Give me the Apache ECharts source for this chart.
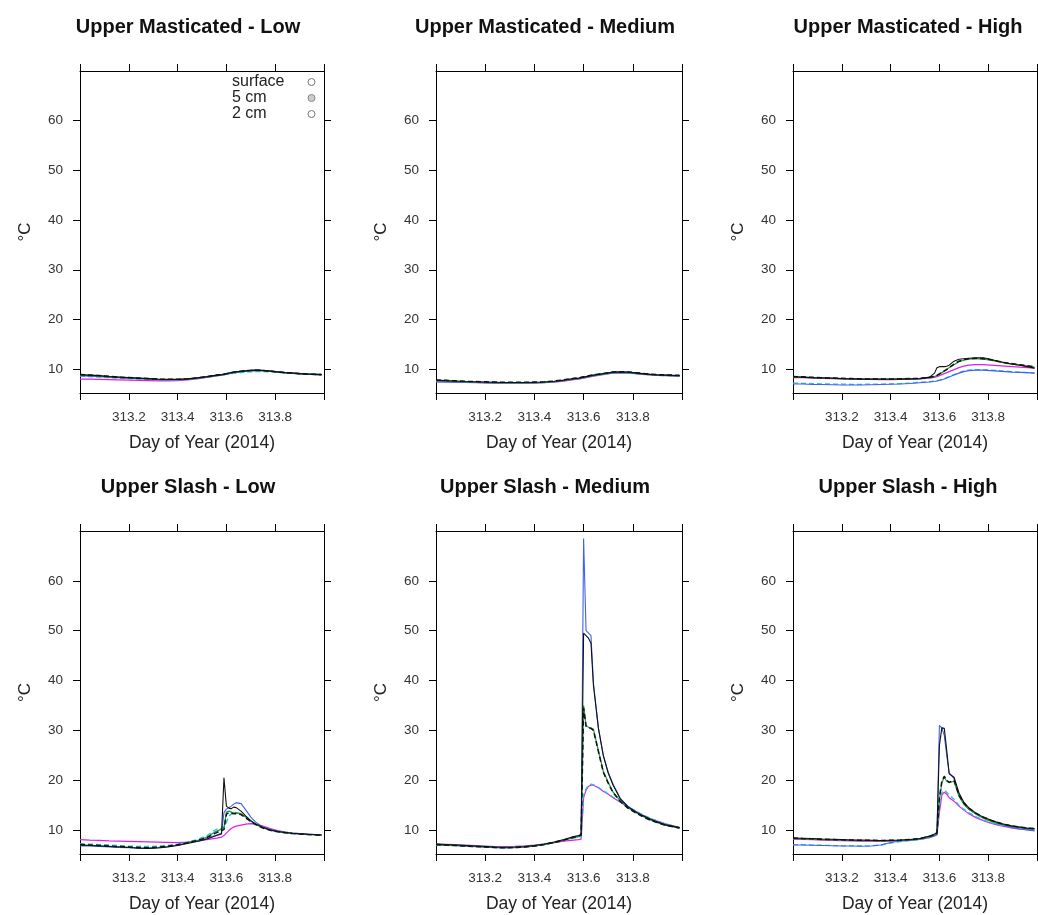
<!DOCTYPE html>
<html>
<head>
<meta charset="utf-8">
<script src="https://cdn.jsdelivr.net/npm/echarts@6/dist/echarts.min.js"></script>
<style>
  html, body { margin: 0; padding: 0; background: #fff; }
  #chart { width: 1038px; height: 915px; }
</style>
</head>
<body>
<div id="chart"></div>
<script>
// day of year, 2014 (denser round the afternoon jump)
const days = [313.00, 313.04, 313.08, 313.12, 313.16, 313.20, 313.24, 313.28, 313.32, 313.36,
  313.40, 313.44, 313.48, 313.52, 313.56, 313.58, 313.59, 313.60, 313.61, 313.62,
  313.63, 313.64, 313.66, 313.68, 313.70, 313.72, 313.75, 313.78, 313.81, 313.84,
  313.87, 313.90, 313.93, 313.96, 313.99];

const xTicks = [313, 313.2, 313.4, 313.6, 313.8, 314];
const xLabels = [313.2, 313.4, 313.6, 313.8];
const yTicks = [10, 20, 30, 40, 50, 60];
const titles = ['Upper Masticated - Low', 'Upper Masticated - Medium', 'Upper Masticated - High',
  'Upper Slash - Low', 'Upper Slash - Medium', 'Upper Slash - High'];

// Upper Masticated - Low
const mastLowSurfA = [8.7, 8.6, 8.5, 8.4, 8.3, 8.2, 8.1, 8.0, 7.9, 7.9, 7.9, 8.0, 8.2, 8.4, 8.7, 8.8, 8.9, 9.0, 9.1, 9.2, 9.3, 9.4, 9.5, 9.6, 9.7, 9.75, 9.7, 9.6, 9.45, 9.3, 9.2, 9.1, 9.05, 9.0, 8.95];
const mastLowSurfB = [8.9, 8.8, 8.7, 8.5, 8.4, 8.3, 8.2, 8.1, 8.0, 7.95, 7.95, 8.05, 8.25, 8.5, 8.8, 8.9, 9.0, 9.1, 9.2, 9.3, 9.4, 9.45, 9.55, 9.65, 9.75, 9.8, 9.75, 9.6, 9.45, 9.3, 9.2, 9.1, 9.0, 8.95, 8.9];
const mastLow2cmA = [8.8, 8.7, 8.6, 8.5, 8.35, 8.25, 8.15, 8.05, 7.95, 7.9, 7.9, 8.0, 8.2, 8.45, 8.75, 8.85, 8.95, 9.05, 9.15, 9.25, 9.35, 9.45, 9.55, 9.65, 9.7, 9.75, 9.7, 9.55, 9.4, 9.25, 9.15, 9.05, 9.0, 8.9, 8.85];
const mastLow2cmB = [8.9, 8.8, 8.7, 8.55, 8.4, 8.3, 8.2, 8.1, 8.0, 7.95, 7.95, 8.05, 8.25, 8.5, 8.8, 8.9, 9.0, 9.1, 9.2, 9.3, 9.4, 9.5, 9.6, 9.7, 9.75, 9.8, 9.75, 9.6, 9.45, 9.3, 9.2, 9.1, 9.0, 8.95, 8.9];
const mastLow5cmA = [8.0, 8.0, 7.95, 7.9, 7.85, 7.8, 7.75, 7.7, 7.65, 7.65, 7.7, 7.85, 8.05, 8.35, 8.65, 8.8, 8.9, 9.0, 9.1, 9.2, 9.3, 9.4, 9.5, 9.6, 9.7, 9.75, 9.7, 9.6, 9.45, 9.3, 9.2, 9.1, 9.0, 8.95, 8.9];
const mastLow5cmB = [8.6, 8.5, 8.4, 8.3, 8.2, 8.1, 8.0, 7.95, 7.9, 7.85, 7.85, 7.95, 8.15, 8.4, 8.7, 8.8, 8.85, 8.95, 9.0, 9.1, 9.15, 9.2, 9.3, 9.4, 9.45, 9.5, 9.5, 9.45, 9.35, 9.25, 9.15, 9.05, 9.0, 8.9, 8.85];

// Upper Masticated - Medium
const mastMedSurfA = [7.4, 7.4, 7.35, 7.3, 7.3, 7.25, 7.2, 7.2, 7.2, 7.2, 7.25, 7.3, 7.45, 7.7, 8.0, 8.1, 8.2, 8.3, 8.4, 8.5, 8.6, 8.7, 8.85, 9.0, 9.15, 9.3, 9.35, 9.3, 9.15, 9.0, 8.9, 8.8, 8.75, 8.7, 8.65];
const mastMedSurfB = [7.8, 7.7, 7.6, 7.5, 7.45, 7.4, 7.35, 7.3, 7.3, 7.3, 7.35, 7.4, 7.55, 7.8, 8.1, 8.2, 8.3, 8.4, 8.5, 8.6, 8.7, 8.8, 8.95, 9.1, 9.25, 9.4, 9.45, 9.4, 9.25, 9.1, 8.95, 8.85, 8.8, 8.75, 8.7];
const mastMed2cmA = [7.7, 7.6, 7.55, 7.45, 7.4, 7.35, 7.3, 7.25, 7.25, 7.25, 7.3, 7.35, 7.5, 7.75, 8.05, 8.15, 8.25, 8.35, 8.45, 8.55, 8.65, 8.75, 8.9, 9.05, 9.2, 9.35, 9.4, 9.35, 9.2, 9.05, 8.95, 8.85, 8.8, 8.7, 8.65];
const mastMed2cmB = [7.8, 7.75, 7.65, 7.55, 7.5, 7.45, 7.4, 7.35, 7.35, 7.35, 7.4, 7.45, 7.6, 7.85, 8.15, 8.25, 8.35, 8.45, 8.55, 8.65, 8.75, 8.85, 9.0, 9.15, 9.3, 9.45, 9.5, 9.45, 9.3, 9.15, 9.0, 8.9, 8.85, 8.8, 8.75];
const mastMed5cmA = [7.5, 7.45, 7.4, 7.35, 7.3, 7.25, 7.2, 7.2, 7.2, 7.2, 7.2, 7.3, 7.4, 7.6, 7.9, 8.0, 8.1, 8.2, 8.3, 8.4, 8.5, 8.6, 8.75, 8.9, 9.05, 9.2, 9.25, 9.2, 9.1, 8.95, 8.85, 8.75, 8.7, 8.65, 8.6];
const mastMed5cmB = [7.6, 7.5, 7.45, 7.4, 7.35, 7.3, 7.25, 7.2, 7.2, 7.2, 7.25, 7.3, 7.45, 7.7, 8.0, 8.1, 8.2, 8.3, 8.4, 8.5, 8.55, 8.65, 8.8, 8.95, 9.1, 9.2, 9.25, 9.2, 9.1, 9.0, 8.9, 8.8, 8.7, 8.65, 8.6];

// Upper Masticated - High
const mastHighSurfA = [7.0, 7.0, 6.9, 6.9, 6.85, 6.8, 6.8, 6.8, 6.85, 6.9, 6.95, 7.0, 7.1, 7.25, 7.4, 7.5, 7.6, 7.7, 7.85, 8.0, 8.2, 8.4, 8.8, 9.2, 9.5, 9.7, 9.8, 9.8, 9.7, 9.6, 9.5, 9.4, 9.35, 9.3, 9.2];
const mastHighSurfB = [8.5, 8.4, 8.3, 8.25, 8.2, 8.1, 8.05, 8.0, 8.0, 8.0, 8.0, 8.0, 8.05, 8.1, 8.4, 9.2, 10.3, 10.5, 10.5, 10.5, 10.6, 10.8, 11.6, 12.0, 12.1, 12.2, 12.3, 12.3, 12.0, 11.6, 11.3, 11.0, 10.8, 10.5, 10.2];
const mastHigh2cmA = [8.4, 8.35, 8.3, 8.2, 8.15, 8.1, 8.05, 8.0, 8.0, 7.95, 7.95, 8.0, 8.05, 8.1, 8.3, 8.5, 8.7, 9.0, 9.3, 9.6, 9.9, 10.3, 10.9, 11.5, 11.8, 12.0, 12.1, 12.0, 11.8, 11.5, 11.2, 11.0, 10.8, 10.6, 10.4];
const mastHigh2cmB = [8.5, 8.45, 8.35, 8.25, 8.2, 8.15, 8.1, 8.05, 8.0, 8.0, 8.0, 8.05, 8.1, 8.15, 8.35, 8.55, 8.75, 9.05, 9.35, 9.65, 9.95, 10.35, 11.0, 11.6, 11.9, 12.1, 12.2, 12.1, 11.9, 11.6, 11.3, 11.1, 10.9, 10.7, 10.5];
const mastHigh5cmA = [8.3, 8.3, 8.2, 8.15, 8.1, 8.05, 8.0, 7.95, 7.95, 7.9, 7.9, 7.95, 8.0, 8.05, 8.2, 8.35, 8.5, 8.7, 8.9, 9.1, 9.3, 9.5, 9.9, 10.3, 10.6, 10.8, 10.9, 10.9, 10.8, 10.7, 10.6, 10.5, 10.4, 10.3, 10.2];
const mastHigh5cmB = [7.2, 7.15, 7.1, 7.05, 7.0, 7.0, 6.95, 6.95, 7.0, 7.0, 7.05, 7.1, 7.2, 7.35, 7.5, 7.6, 7.7, 7.8, 7.95, 8.1, 8.3, 8.5, 8.9, 9.3, 9.6, 9.8, 9.9, 9.9, 9.8, 9.7, 9.6, 9.5, 9.4, 9.3, 9.2];

// Upper Slash - Low
const slashLowSurfA = [6.8, 6.8, 6.7, 6.6, 6.5, 6.45, 6.4, 6.4, 6.5, 6.7, 7.0, 7.4, 7.8, 8.3, 9.0, 9.4, 13.5, 14.2, 14.5, 14.8, 15.2, 15.5, 15.3, 14.0, 12.6, 11.6, 10.6, 10.1, 9.8, 9.6, 9.4, 9.3, 9.2, 9.1, 9.0];
const slashLowSurfB = [7.0, 6.9, 6.8, 6.7, 6.6, 6.5, 6.35, 6.3, 6.4, 6.6, 6.9, 7.3, 7.7, 8.2, 8.9, 9.2, 20.5, 14.8, 14.4, 14.3, 14.6, 14.5, 13.8, 12.8, 11.9, 11.2, 10.5, 10.0, 9.7, 9.5, 9.35, 9.25, 9.15, 9.1, 9.0];
const slashLow2cmA = [7.0, 6.95, 6.85, 6.75, 6.65, 6.55, 6.45, 6.4, 6.5, 6.7, 7.0, 7.4, 7.9, 8.6, 9.8, 10.2, 10.5, 13.6, 13.8, 13.6, 13.4, 13.5, 13.3, 12.6, 11.8, 11.2, 10.5, 10.0, 9.7, 9.5, 9.35, 9.25, 9.15, 9.1, 9.0];
const slashLow2cmB = [7.1, 7.0, 6.9, 6.8, 6.7, 6.6, 6.5, 6.45, 6.55, 6.75, 7.05, 7.45, 7.9, 8.5, 9.5, 9.9, 10.1, 13.2, 13.5, 13.4, 13.3, 13.3, 13.1, 12.4, 11.7, 11.1, 10.4, 9.95, 9.65, 9.45, 9.3, 9.2, 9.1, 9.05, 8.95];
const slashLow5cmA = [8.1, 8.0, 7.95, 7.85, 7.8, 7.75, 7.7, 7.65, 7.6, 7.55, 7.5, 7.6, 7.8, 8.1, 8.4, 8.6, 8.9, 9.4, 9.9, 10.3, 10.6, 10.8, 11.0, 11.2, 11.3, 11.2, 10.8, 10.3, 9.9, 9.6, 9.4, 9.3, 9.2, 9.1, 9.0];
const slashLow5cmB = [7.3, 7.2, 7.1, 7.0, 6.9, 6.8, 6.7, 6.7, 6.8, 6.9, 7.2, 7.6, 8.1, 8.9, 10.2, 10.4, 10.6, 11.5, 12.8, 13.2, 13.3, 13.4, 13.2, 12.6, 11.8, 11.2, 10.5, 10.0, 9.7, 9.5, 9.35, 9.25, 9.15, 9.1, 9.0];

// Upper Slash - Medium
const slashMedSurfA = [7.0, 6.95, 6.9, 6.8, 6.7, 6.6, 6.5, 6.45, 6.5, 6.6, 6.8, 7.1, 7.5, 8.0, 8.6, 8.8, 9.0, 68.5, 50.0, 49.5, 49.0, 39.5, 30.5, 25.0, 21.5, 19.2, 16.3, 14.8, 13.8, 12.9, 12.2, 11.6, 11.1, 10.8, 10.5];
const slashMedSurfB = [7.2, 7.1, 7.0, 6.9, 6.8, 6.7, 6.6, 6.55, 6.6, 6.7, 6.9, 7.2, 7.6, 8.1, 8.7, 8.9, 9.1, 49.5, 49.0, 48.5, 47.5, 39.0, 30.5, 25.0, 21.5, 19.0, 16.2, 14.7, 13.7, 12.9, 12.2, 11.6, 11.1, 10.8, 10.5];
const slashMed2cmA = [7.0, 6.95, 6.85, 6.75, 6.65, 6.55, 6.45, 6.4, 6.45, 6.55, 6.75, 7.05, 7.45, 7.95, 8.5, 8.7, 8.9, 35.0, 31.0, 30.6, 30.5, 30.2, 26.0, 21.8, 19.6, 17.6, 15.8, 14.5, 13.6, 12.8, 12.1, 11.5, 11.0, 10.7, 10.4];
const slashMed2cmB = [7.1, 7.0, 6.9, 6.8, 6.7, 6.6, 6.5, 6.45, 6.5, 6.6, 6.8, 7.1, 7.5, 8.0, 8.6, 8.8, 9.0, 34.5, 30.8, 30.5, 30.4, 30.0, 25.8, 21.6, 19.4, 17.5, 15.7, 14.4, 13.5, 12.7, 12.0, 11.5, 11.0, 10.7, 10.4];
const slashMed5cmA = [7.2, 7.15, 7.1, 7.0, 6.9, 6.8, 6.7, 6.7, 6.75, 6.85, 7.0, 7.2, 7.5, 7.8, 8.0, 8.1, 8.2, 16.5, 18.0, 18.8, 19.0, 19.0, 18.5, 17.8, 17.2, 16.5, 15.6, 14.6, 13.8, 13.0, 12.3, 11.8, 11.3, 10.9, 10.5];
const slashMed5cmB = [7.1, 7.05, 7.0, 6.9, 6.8, 6.7, 6.6, 6.55, 6.6, 6.7, 6.9, 7.2, 7.6, 8.0, 8.4, 8.6, 8.8, 17.0, 18.3, 19.0, 19.2, 19.1, 18.6, 17.9, 17.3, 16.6, 15.7, 14.7, 13.9, 13.1, 12.4, 11.8, 11.3, 10.9, 10.5];

// Upper Slash - High
const slashHighSurfA = [7.0, 7.0, 6.95, 6.9, 6.85, 6.8, 6.8, 6.75, 6.8, 7.0, 7.5, 7.8, 8.0, 8.2, 8.6, 8.9, 9.2, 31.0, 30.5, 29.0, 25.0, 21.5, 20.3, 17.0, 15.3, 14.2, 13.2, 12.4, 11.8, 11.3, 10.9, 10.5, 10.2, 10.0, 9.8];
const slashHighSurfB = [8.4, 8.35, 8.3, 8.2, 8.15, 8.1, 8.0, 8.0, 7.95, 7.9, 7.95, 8.0, 8.1, 8.3, 8.8, 9.2, 9.5, 27.0, 30.5, 30.4, 26.0, 21.3, 20.6, 17.5, 15.6, 14.5, 13.4, 12.6, 12.0, 11.5, 11.1, 10.8, 10.6, 10.4, 10.3];
const slashHigh2cmA = [8.3, 8.25, 8.2, 8.1, 8.05, 8.0, 7.95, 7.9, 7.9, 7.85, 7.9, 7.95, 8.05, 8.25, 8.7, 9.0, 9.3, 16.0, 19.5, 20.6, 19.8, 19.5, 19.8, 16.8, 15.2, 14.2, 13.2, 12.4, 11.8, 11.3, 11.0, 10.7, 10.5, 10.3, 10.2];
const slashHigh2cmB = [8.4, 8.3, 8.25, 8.15, 8.1, 8.05, 8.0, 7.95, 7.95, 7.9, 7.95, 8.0, 8.1, 8.3, 8.75, 9.05, 9.35, 16.5, 19.8, 20.8, 20.0, 19.6, 20.0, 17.0, 15.4, 14.4, 13.4, 12.6, 12.0, 11.5, 11.1, 10.8, 10.6, 10.4, 10.3];
const slashHigh5cmA = [8.2, 8.15, 8.1, 8.0, 7.95, 7.9, 7.85, 7.8, 7.8, 7.75, 7.8, 7.85, 7.95, 8.15, 8.5, 8.8, 9.0, 13.5, 17.0, 17.6, 17.2, 16.5, 15.8, 14.8, 14.0, 13.3, 12.5, 11.9, 11.4, 11.0, 10.7, 10.4, 10.2, 10.1, 10.0];
const slashHigh5cmB = [7.1, 7.05, 7.0, 6.95, 6.9, 6.85, 6.85, 6.8, 6.85, 7.0, 7.4, 7.7, 7.9, 8.1, 8.5, 8.8, 9.1, 15.0, 17.5, 18.0, 17.6, 17.0, 16.2, 15.0, 14.2, 13.5, 12.7, 12.0, 11.5, 11.1, 10.8, 10.5, 10.3, 10.1, 9.9];

const panelData = [
  [mastLow5cmA, mastLow5cmB, mastLowSurfA, mastLow2cmA, mastLowSurfB, mastLow2cmB],
  [mastMed5cmA, mastMed5cmB, mastMedSurfA, mastMed2cmA, mastMedSurfB, mastMed2cmB],
  [mastHigh5cmA, mastHigh5cmB, mastHighSurfA, mastHigh2cmA, mastHighSurfB, mastHigh2cmB],
  [slashLow5cmA, slashLow5cmB, slashLowSurfA, slashLow2cmA, slashLowSurfB, slashLow2cmB],
  [slashMed5cmA, slashMed5cmB, slashMedSurfA, slashMed2cmA, slashMedSurfB, slashMed2cmB],
  [slashHigh5cmA, slashHigh5cmB, slashHighSurfA, slashHigh2cmA, slashHighSurfB, slashHigh2cmB]
];

// line look, same order as panelData rows (coloured first, black on top)
const lineStyles = [
  {name: '5 cm', color: '#e020e0', type: 'solid', width: 1.2},
  {name: '5 cm', color: '#20c4d8', type: [5, 3], width: 1.3},
  {name: 'surface', color: '#4060f0', type: 'solid', width: 1.1},
  {name: '2 cm', color: '#1c9a3c', type: 'solid', width: 1.2},
  {name: 'surface', color: '#111111', type: 'solid', width: 1.1},
  {name: '2 cm', color: '#111111', type: [5, 3], width: 1.5}
];

const FONT = '"Liberation Sans", Arial, sans-serif';
const colLeft = [80, 436, 793];
const colWidth = [244, 246, 244];
const rowTop = [71, 531];
const rowHeight = [322, 323];
const titleX = [183, 540, 903];
const titleY = [12, 472];

let myChart = echarts.init(document.getElementById('chart'), null, {renderer: 'canvas'});

let grids = [], xAxes = [], yAxes = [], series = [], titleList = [];
for (let p = 0; p < 6; p++) {
  let c = p % 3, r = Math.floor(p / 3);
  grids.push({left: colLeft[c], top: rowTop[r], width: colWidth[c], height: rowHeight[r], containLabel: false});
  titleList.push({
    text: titles[p], left: titleX[c], top: titleY[r], textAlign: 'center',
    textStyle: {fontFamily: FONT, fontSize: 20, fontWeight: 'bold', color: '#111'}
  });
  // bottom + top x axes
  xAxes.push({
    type: 'value', gridIndex: p, position: 'bottom', min: 313, max: 314,
    name: 'Day of Year (2014)', nameLocation: 'middle', nameGap: 41,
    nameTextStyle: {fontFamily: FONT, fontSize: 17.5, color: '#222'},
    axisLine: {show: true, onZero: false, lineStyle: {color: '#000', width: 1}},
    axisTick: {show: true, length: 7, inside: false, customValues: xTicks, lineStyle: {color: '#000'}},
    axisLabel: {customValues: xLabels, margin: 17, fontFamily: FONT, fontSize: 13.5, color: '#333',
      formatter: v => v.toFixed(1)},
    splitLine: {show: false}
  });
  xAxes.push({
    type: 'value', gridIndex: p, position: 'top', min: 313, max: 314,
    axisLine: {show: true, onZero: false, lineStyle: {color: '#000', width: 1}},
    axisTick: {show: true, length: 7, inside: false, customValues: xTicks, lineStyle: {color: '#000'}},
    axisLabel: {show: false},
    splitLine: {show: false}
  });
  // left + right y axes
  yAxes.push({
    type: 'value', gridIndex: p, position: 'left', min: 5.2, max: 70,
    name: '°C', nameLocation: 'middle', nameGap: 46, nameRotate: 90,
    nameTextStyle: {fontFamily: FONT, fontSize: 17, color: '#222'},
    axisLine: {show: true, onZero: false, lineStyle: {color: '#000', width: 1}},
    axisTick: {show: true, length: 7, inside: false, customValues: yTicks, lineStyle: {color: '#000'}},
    axisLabel: {customValues: yTicks, margin: 17, fontFamily: FONT, fontSize: 13.5, color: '#333'},
    splitLine: {show: false}
  });
  yAxes.push({
    type: 'value', gridIndex: p, position: 'right', min: 5.2, max: 70,
    axisLine: {show: true, onZero: false, lineStyle: {color: '#000', width: 1}},
    axisTick: {show: true, length: 7, inside: false, customValues: yTicks, lineStyle: {color: '#000'}},
    axisLabel: {show: false},
    splitLine: {show: false}
  });
  panelData[p].forEach((vals, k) => {
    let st = lineStyles[k];
    series.push({
      name: st.name, type: 'line', xAxisIndex: p * 2, yAxisIndex: p * 2,
      data: days.map((d, i) => [d, vals[i]]),
      showSymbol: false, symbol: 'none', silent: true,
      lineStyle: {color: st.color, width: st.width, type: st.type},
      itemStyle: {color: st.color},
      z: 2 + k
    });
  });
}

let option = {
  animation: false,
  backgroundColor: '#fff',
  title: titleList,
  legend: {
    left: 232, top: 74, padding: 0, orient: 'vertical', align: 'right',
    selectedMode: false, itemGap: 0, itemWidth: 7, itemHeight: 7,
    formatter: name => '{t|' + name + '}',
    textStyle: {
      fontFamily: FONT, fontSize: 16, color: '#222',
      rich: {t: {width: 71, align: 'left', lineHeight: 16.5, fontFamily: FONT, fontSize: 16, color: '#222'}}
    },
    data: [
      {name: 'surface', icon: 'circle', itemStyle: {color: '#fff', borderColor: '#777', borderWidth: 1}},
      {name: '5 cm', icon: 'circle', itemStyle: {color: '#ccc', borderColor: '#888', borderWidth: 1}},
      {name: '2 cm', icon: 'circle', itemStyle: {color: '#fff', borderColor: '#777', borderWidth: 1}}
    ]
  },
  grid: grids,
  xAxis: xAxes,
  yAxis: yAxes,
  series: series
};
myChart.setOption(option);
</script>
</body>
</html>
